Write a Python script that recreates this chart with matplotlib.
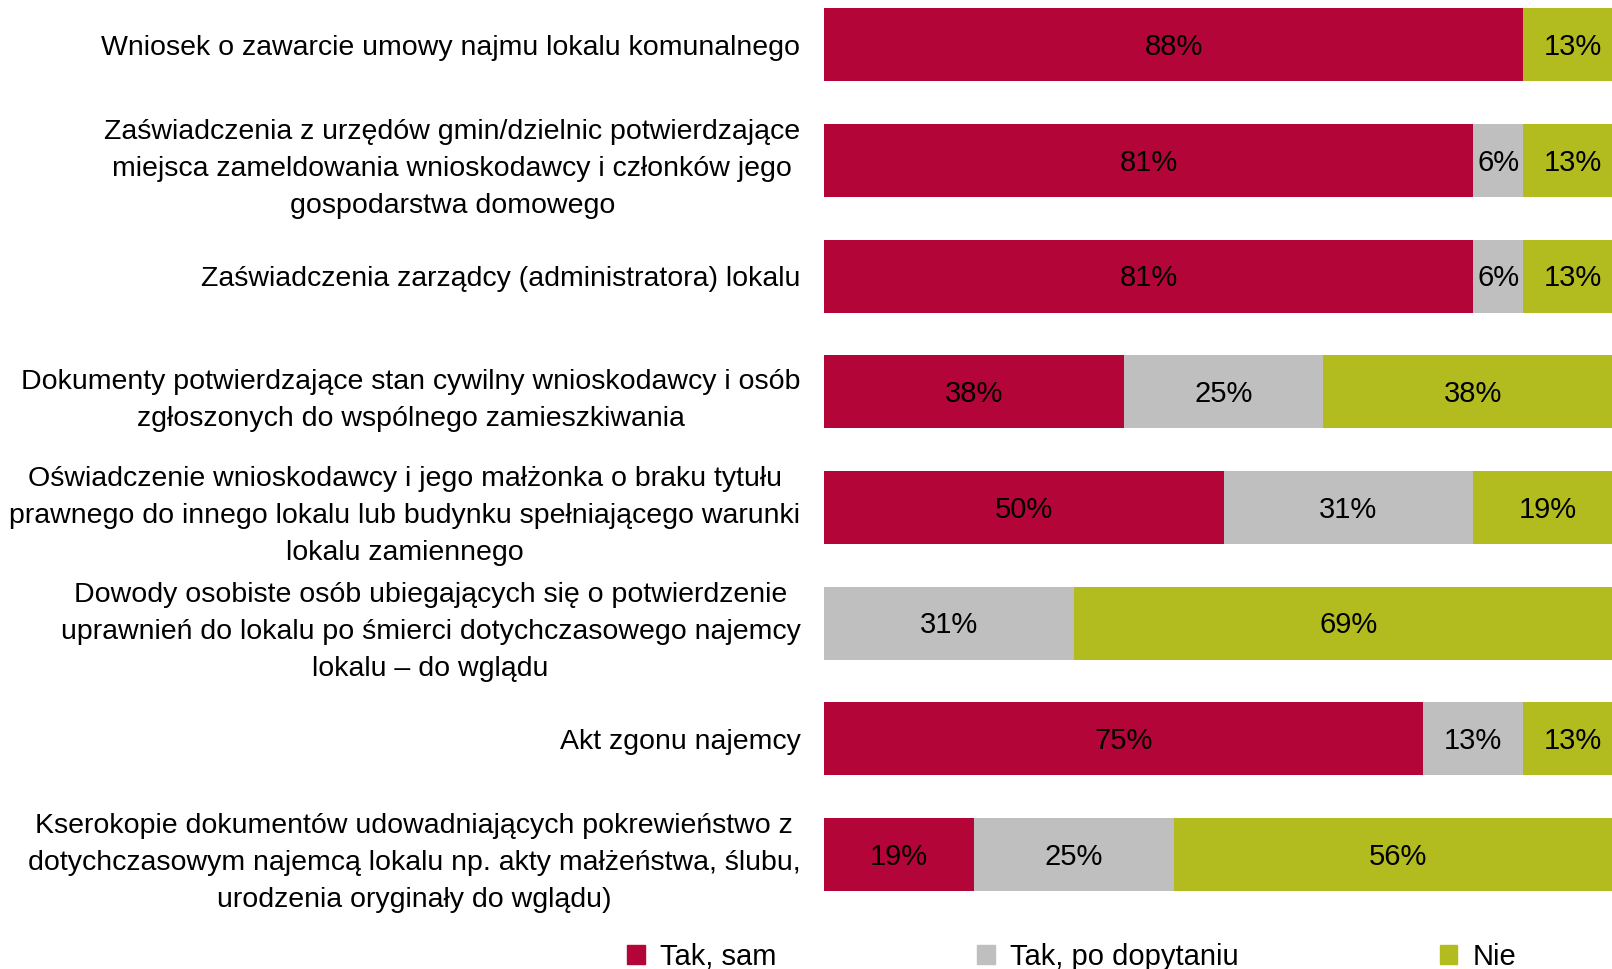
import matplotlib.pyplot as plt
from matplotlib.patches import Patch

plt.rcParams['font.family'] = ['Liberation Sans', 'DejaVu Sans']

categories = [
    "Wniosek o zawarcie umowy najmu lokalu komunalnego",
    "Zaświadczenia z urzędów gmin/dzielnic potwierdzające\nmiejsca zameldowania wnioskodawcy i członków jego\ngospodarstwa domowego",
    "Zaświadczenia zarządcy (administratora) lokalu",
    "Dokumenty potwierdzające stan cywilny wnioskodawcy i osób\nzgłoszonych do wspólnego zamieszkiwania",
    "Oświadczenie wnioskodawcy i jego małżonka o braku tytułu\nprawnego do innego lokalu lub budynku spełniającego warunki\nlokalu zamiennego",
    "Dowody osobiste osób ubiegających się o potwierdzenie\nuprawnień do lokalu po śmierci dotychczasowego najemcy\nlokalu – do wglądu",
    "Akt zgonu najemcy",
    "Kserokopie dokumentów udowadniających pokrewieństwo z\ndotychczasowym najemcą lokalu np. akty małżeństwa, ślubu,\nurodzenia oryginały do wglądu)",
]

series_names = ["Tak, sam", "Tak, po dopytaniu", "Nie"]
tak_sam = [87.5, 81.25, 81.25, 37.5, 50.0, 0.0, 75.0, 18.75]
tak_dopyt = [0.0, 6.25, 6.25, 25.0, 31.25, 31.25, 12.5, 25.0]
nie = [12.5, 12.5, 12.5, 37.5, 18.75, 68.75, 12.5, 56.25]
colors = ["#B30538", "#BFBFBF", "#B3BC1E"]

fig = plt.figure(figsize=(16.12, 9.69), dpi=100)
# plot area runs a little past the right edge of the picture, as in the source
ax = fig.add_axes([824 / 1612, 0.0805, 799 / 1612, 0.911])

y = list(range(len(categories)))
left = [0.0] * len(categories)
for vals, color in zip([tak_sam, tak_dopyt, nie], colors):
    bars = ax.barh(y, vals, left=left, height=0.63, color=color)
    for b, v in zip(bars, vals):
        if v > 0:
            ax.text(b.get_x() + b.get_width() / 2, b.get_y() + b.get_height() / 2 + 0.02,
                    f"{int(v + 0.5)}%", ha="center", va="center", fontsize=21)
    left = [l + v for l, v in zip(left, vals)]

ax.set_xlim(0, 100)
ax.set_ylim(len(categories) - 1 + 0.315, -0.315)
ax.set_yticks(y)
ax.set_yticklabels(categories, fontsize=20.5, ha="right", multialignment="center",
                   linespacing=1.55)
ax.tick_params(axis="y", length=0, pad=17)
ax.set_xticks([])
for s in ax.spines.values():
    s.set_visible(False)

handles = [Patch(color=c, label=n) for c, n in zip(colors, series_names)]
fig.legend(handles=handles, loc="center left", bbox_to_anchor=(627 / 1612, 1 - 957 / 969),
           ncol=3, frameon=False, fontsize=21, handlelength=0.6, handleheight=0.6,
           handletextpad=0.52, columnspacing=6.9, borderpad=0, borderaxespad=0)

fig.savefig("out.png", dpi=100)
